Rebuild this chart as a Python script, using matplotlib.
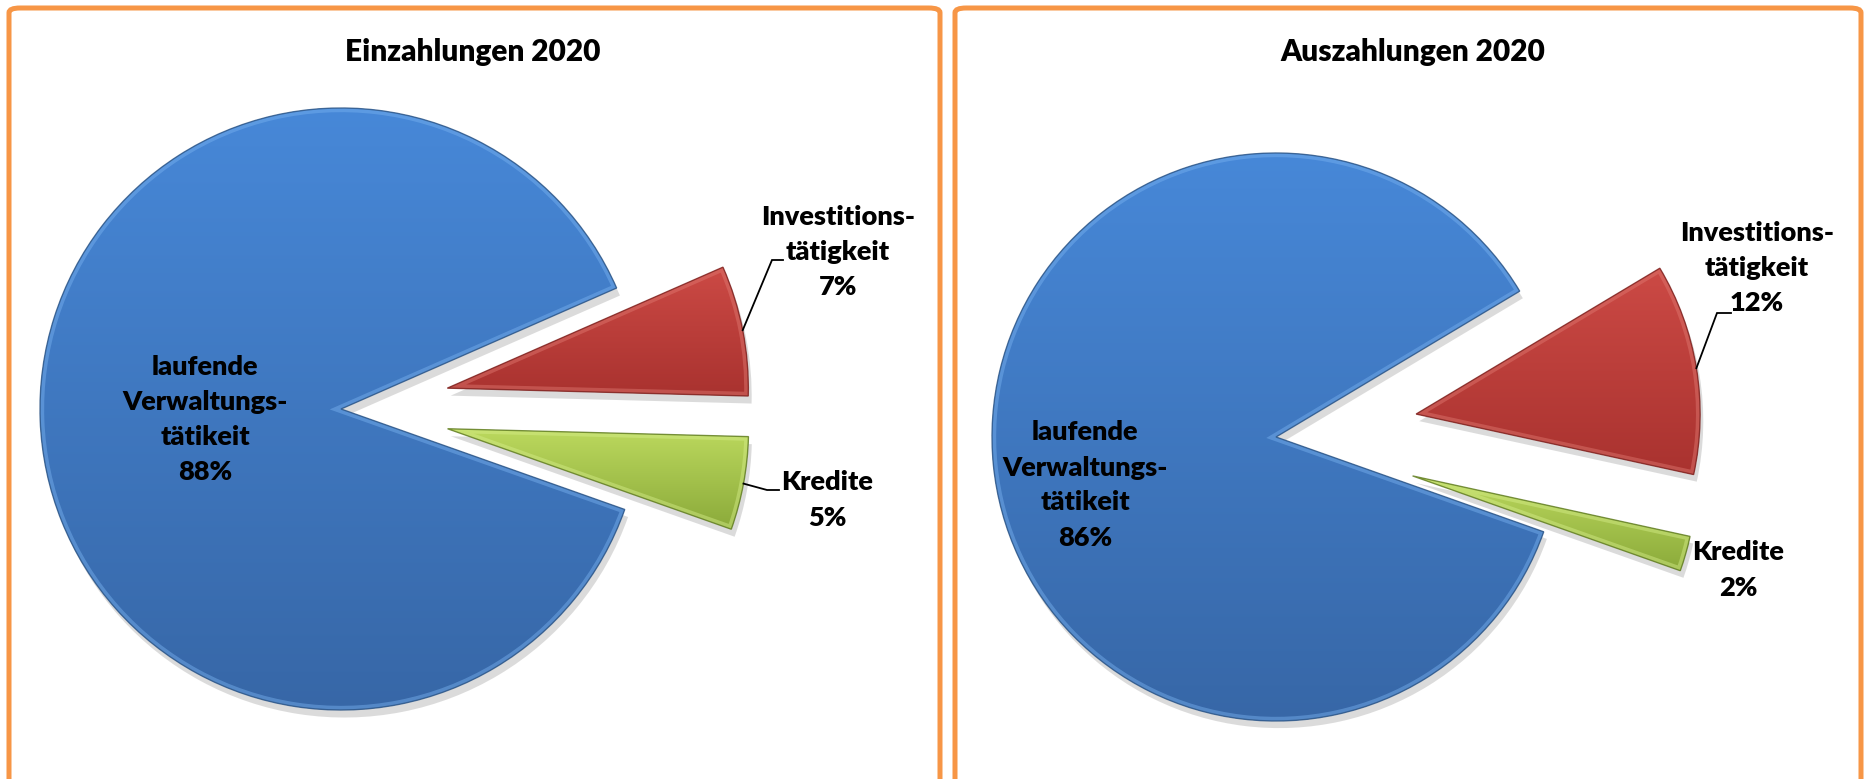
import numpy as np
import matplotlib
matplotlib.use("Agg")
import matplotlib.pyplot as plt
from matplotlib.patches import FancyBboxPatch, PathPatch
from matplotlib.colors import to_rgb

# ---------------- data ----------------
categories = ["laufende\nVerwaltungs-\ntätikeit", "Investitions-\ntätigkeit", "Kredite"]
einzahlungen = [88, 7, 5]
auszahlungen = [86, 12, 2]
titles = ["Einzahlungen 2020", "Auszahlungen 2020"]

# ---------------- style ----------------
W, H = 1865, 779
FONT = ["Lato", "DejaVu Sans"]
WEIGHT = "heavy"
base_colors = ["#4080D0", "#C0403D", "#A3C64E"]
top_colors = ["#4788D8", "#CC4A45", "#BCD95E"]
bot_colors = ["#3767A7", "#A9322F", "#8BAA3A"]
rim_colors = ["#79B2F0", "#E07A72", "#D6EE8A"]
edge_colors = ["#2D5585", "#7E2320", "#5F7A22"]
BORDER = "#F79646"

fig = plt.figure(figsize=(W / 100, H / 100), dpi=100)
fig.patch.set_facecolor("white")

# panel frames (figure pixel coords)
for (x0, x1) in [(9, 940), (955, 1861)]:
    fr = FancyBboxPatch((x0 / W, -0.2), (x1 - x0) / W, (H - 8) / H + 0.2,
                        boxstyle="round,pad=0,rounding_size=0.006",
                        transform=fig.transFigure, fill=False,
                        edgecolor=BORDER, linewidth=3.6, zorder=0)
    fig.patches.append(fr)


def make_axes(cx, cy, r):
    ax = fig.add_axes([0, 0, 1, 1])
    ax.set_facecolor("none")
    ax.axis("off")
    def P(x, y):
        return ((x - cx) / r, (cy - y) / r)
    lims = ((0 - cx) / r, (W - cx) / r), ((cy - H) / r, cy / r)
    return ax, P, lims


def gradient_fill(ax, w, i):
    path = w.get_path()
    ext = path.get_extents()
    n = 256
    t = np.linspace(0, 1, n)[:, None]
    c0 = np.array(to_rgb(top_colors[i]))
    c1 = np.array(to_rgb(bot_colors[i]))
    img = (1 - t)[:, :, None] * c0[None, None, :] + t[:, :, None] * c1[None, None, :]
    img = np.repeat(img, 2, axis=1)
    im = ax.imshow(img, extent=[ext.x0, ext.x1, ext.y0, ext.y1], origin="upper",
                   aspect="auto", zorder=2, interpolation="bilinear")
    im.set_clip_path(w)
    rim = PathPatch(path, fill=False, edgecolor=rim_colors[i], linewidth=6,
                    alpha=0.45, zorder=3)
    ax.add_patch(rim)
    rim.set_clip_path(w)
    outline = PathPatch(path, fill=False, edgecolor=edge_colors[i], linewidth=1.0,
                        alpha=0.8, zorder=4)
    ax.add_patch(outline)


def draw_pie(values, cx, cy, r, explode, title, title_xy, label_xy, leaders):
    ax, P, lims = make_axes(cx, cy, r)
    wedges, _ = ax.pie(values, colors=base_colors, startangle=-19.5,
                       counterclock=False, explode=[0, explode, explode],
                       radius=1, center=(0, 0),
                       wedgeprops=dict(linewidth=0),
                       shadow=dict(ox=0.008, oy=-0.018, facecolor="#9a9a9a",
                                   edgecolor="none", alpha=0.35))
    for i, w in enumerate(wedges):
        gradient_fill(ax, w, i)
    # title
    ax.text(*P(*title_xy), title, ha="center", va="center", fontsize=21.5,
            fontweight=WEIGHT, family=FONT, zorder=10)
    # labels
    for i, (v, cat) in enumerate(zip(values, categories)):
        ax.text(*P(*label_xy[i]), f"{cat}\n{v}%", ha="center", va="center",
                fontsize=19.5, fontweight=WEIGHT, family=FONT, linespacing=1.55,
                multialignment="center", zorder=10)
    # leader lines: from arc midpoint of the wedge to elbow and end
    for i, (elbow, end) in leaders.items():
        w = wedges[i]
        mid = np.deg2rad((w.theta1 + w.theta2) / 2)
        sx = w.center[0] + w.r * np.cos(mid)
        sy = w.center[1] + w.r * np.sin(mid)
        ex, ey = P(*elbow)
        fx, fy = P(*end)
        ax.plot([sx, ex, fx], [sy, ey, fy], color="black", linewidth=1.3,
                zorder=9, solid_joinstyle="miter")
    ax.set_xlim(*lims[0])
    ax.set_ylim(*lims[1])
    ax.set_aspect("auto")
    return ax


draw_pie(einzahlungen, 341, 409, 301, 0.36, titles[0], (473, 52),
         [(205, 420), (838, 252), (827, 500)],
         {1: ((772, 260), (783, 260)), 2: ((767, 490), (779, 490))})

draw_pie(auszahlungen, 1276, 437, 284, 0.50, titles[1], (1413, 52),
         [(1085, 485), (1757, 268), (1738, 570)],
         {1: ((1717, 313), (1731, 313))})

fig.savefig("out.png", dpi=100, facecolor="white")
